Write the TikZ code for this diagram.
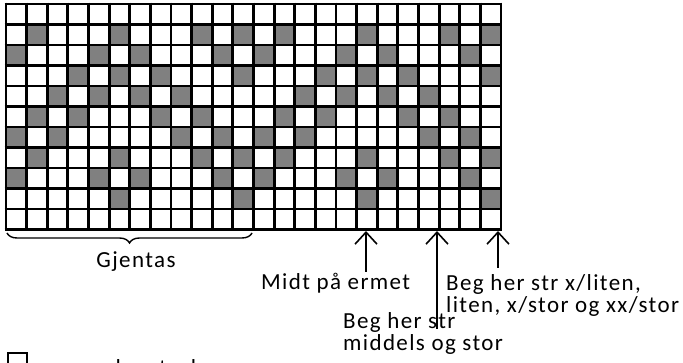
\documentclass[tikz,border=0pt]{standalone}
\usepackage{fontspec}
\setmainfont{Carlito}
\newfontfamily\notefont{Carlito}[LetterSpace=6]
\usetikzlibrary{arrows.meta,decorations.pathreplacing}

\begin{document}
\begin{tikzpicture}[x=1pt,y=-1pt,
    every node/.style={font=\notefont\fontsize{23}{22}\selectfont,inner sep=0pt},
    darkcell/.style={fill=black!50},
    gridline/.style={line width=2.8pt},
    pointer/.style={{Straight Barb[length=12pt,width=22pt]}-,line width=1.6pt},
    note/.style={anchor=base west,align=left}]
  \useasboundingbox (0,0) rectangle (683,363);
  % dark stitches, pattern repeats every 12 columns
  \foreach \r/\cl in {1/{1,5,9,11},2/{0,4,6,10},3/{3,5,7,11},4/{2,4,6,8},
      5/{1,3,7,9},6/{0,2,8,10},7/{1,5,9,11},8/{0,4,6,10},9/{5,11}}
    \foreach \c in \cl
      \foreach \k in {0,12}
        \fill[darkcell] ({6+(\c+\k)*20.625},{4+\r*20.5}) rectangle ++(20.625,20.5);
  % grid lines
  \foreach \c in {0,...,24}
    \draw[gridline] ({6+\c*20.625},2.6) -- ({6+\c*20.625},230.9);
  \foreach \r in {0,...,11}
    \draw[gridline] (4.6,{4+\r*20.5}) -- (502.4,{4+\r*20.5});

  % repeat brace
  \coordinate (rl) at (7,233);
  \coordinate (rr) at (252,233);
  \draw[line width=1.4pt,decorate,decoration={brace,mirror,amplitude=10pt}] (rl) -- (rr);
  \node[anchor=base] (gjentas) at (136,268) {Gjentas};

  % pointers
  \coordinate (midt) at (366,231);
  \coordinate (midtend) at (366,272);
  \coordinate (middels) at (437,231);
  \coordinate (middelsend) at (437,329);
  \coordinate (liten) at (498,231);
  \coordinate (litenend) at (498,268);
  \draw[pointer] (midt) -- (midtend);
  \draw[pointer] (middels) -- (middelsend);
  \draw[pointer] (liten) -- (litenend);

  % base of a two-line note is its last line
  \node[note] (midttext) at (261,290) {Midt på ermet};
  \node[note] (litentext) at (446,313) {Beg her str x/liten,\\liten, x/stor og xx/stor};
  \node[note] (middelstext) at (343,351) {Beg her str\\middels og stor};

  % legend
  \draw[gridline] (8,353) rectangle (27,373) coordinate (box);
  \node[anchor=base west] (legend) at (55,375) {= mørk petrol};
\end{tikzpicture}
\end{document}
